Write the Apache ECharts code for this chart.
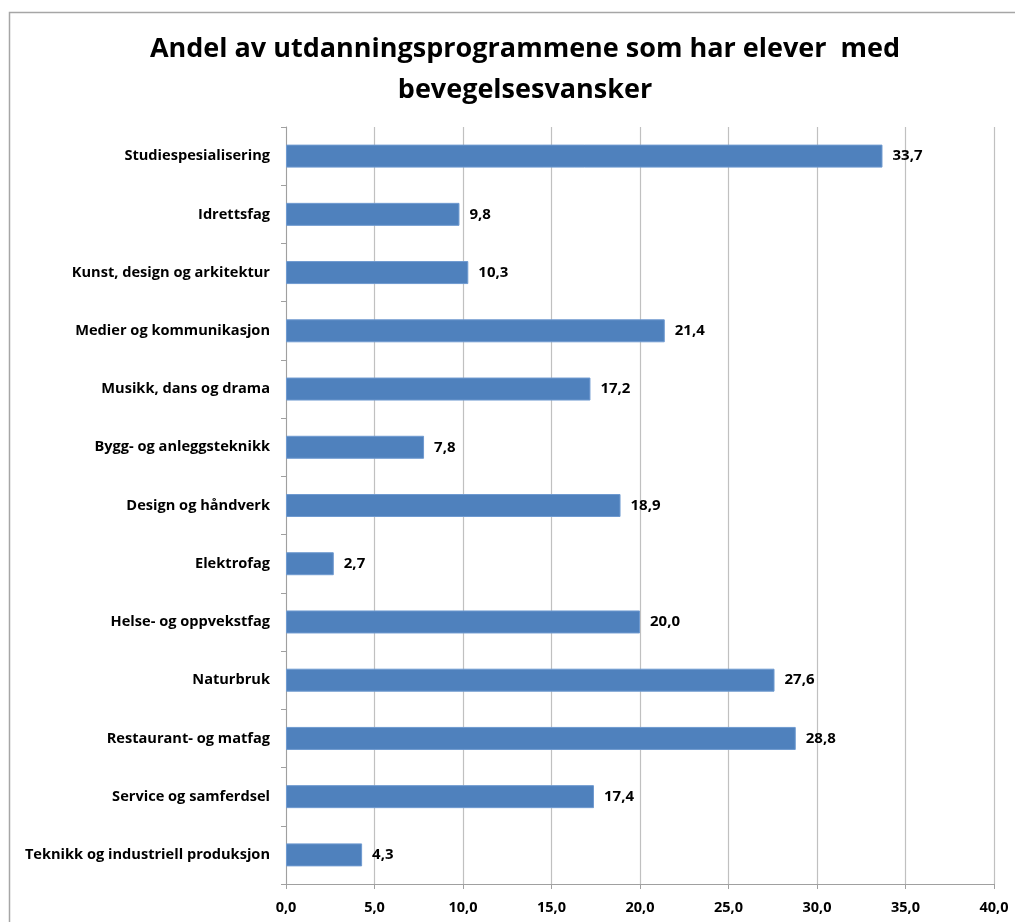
<!DOCTYPE html>
<html>
<head>
<meta charset="utf-8">
<script src="https://cdn.jsdelivr.net/npm/echarts@6/dist/echarts.min.js"></script>
<style>
html, body { margin: 0; padding: 0; background: #fff; }
#chart { width: 1015px; height: 922px; }
</style>
</head>
<body>
<div id="chart"></div>
<script>
const titleText = "Andel av utdanningsprogrammene som har elever  med\nbevegelsesvansker";
const categories = [
	"Studiespesialisering",
	"Idrettsfag",
	"Kunst, design og arkitektur",
	"Medier og kommunikasjon",
	"Musikk, dans og drama",
	"Bygg- og anleggsteknikk",
	"Design og håndverk",
	"Elektrofag",
	"Helse- og oppvekstfag",
	"Naturbruk",
	"Restaurant- og matfag",
	"Service og samferdsel",
	"Teknikk og industriell produksjon",
];
const values = [33.7, 9.8, 10.3, 21.4, 17.2, 7.8, 18.9, 2.7, 20.0, 27.6, 28.8, 17.4, 4.3];
const xMin = 0, xMax = 40, xStep = 5;

const FONT = "'Open Sans', 'Noto Sans', sans-serif";
const fmt = (v) => Number(v).toFixed(1).replace(".", ",");

const chart = echarts.init(document.getElementById("chart"));
chart.setOption({
	animation: false,
	textStyle: { fontFamily: FONT },
	graphic: [{
		type: "rect",
		shape: { x: 9.5, y: 12.5, width: 1100, height: 1100 },
		style: { fill: "none", stroke: "#a6a6a6", lineWidth: 1.5 },
		silent: true,
	}],
	title: {
		text: titleText,
		left: 520,
		textAlign: "center",
		top: 24,
		textStyle: { fontFamily: FONT, fontSize: 27, fontWeight: "bold", color: "#000", lineHeight: 41 },
	},
	grid: { left: 286, right: 21, top: 127, bottom: 38 },
	xAxis: {
		type: "value",
		min: xMin,
		max: xMax,
		interval: xStep,
		axisLine: { show: true, lineStyle: { color: "#a0a0a0", width: 1 } },
		axisTick: { show: true, length: 5, lineStyle: { color: "#a0a0a0" } },
		axisLabel: { color: "#000", fontWeight: "bold", fontSize: 14.5, margin: 16, formatter: fmt },
		splitLine: { show: true, lineStyle: { color: "#c0c0c0", width: 1.2 } },
	},
	yAxis: {
		type: "category",
		data: categories,
		inverse: true,
		axisLine: { show: true, lineStyle: { color: "#a0a0a0", width: 1 } },
		axisTick: { show: true, length: 5, lineStyle: { color: "#a0a0a0" } },
		axisLabel: { color: "#000", fontWeight: "bold", fontSize: 14.6, margin: 16 },
	},
	series: [{
		type: "bar",
		data: values,
		barWidth: 23,
		itemStyle: { color: "#4f81bd", borderColor: "#6f9ad0", borderWidth: 1 },
		label: {
			show: true,
			position: "right",
			distance: 10,
			color: "#000",
			fontWeight: "bold",
			fontSize: 15,
			formatter: (p) => fmt(p.value),
		},
	}],
});
</script>
</body>
</html>
